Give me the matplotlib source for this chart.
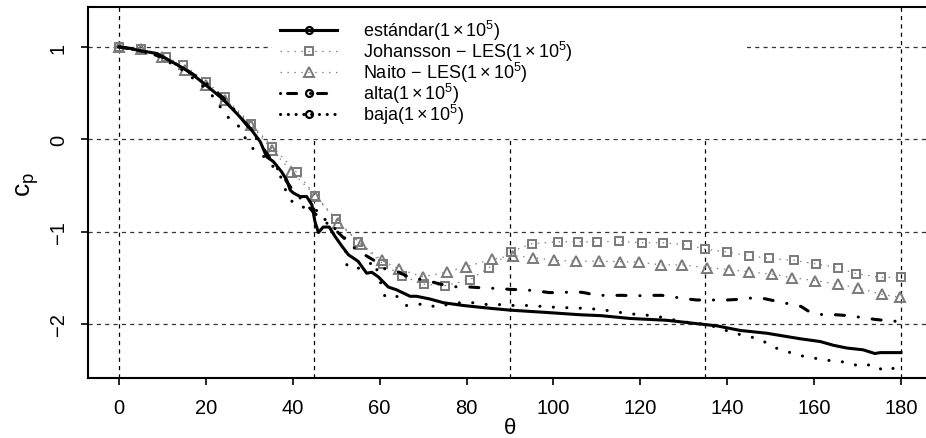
import matplotlib
matplotlib.use("Agg")
import matplotlib.pyplot as plt
from matplotlib.lines import Line2D
from matplotlib.patches import Rectangle

plt.rcParams['font.family'] = ['Liberation Sans', 'DejaVu Sans']
plt.rcParams['mathtext.fontset'] = 'custom'
plt.rcParams['mathtext.rm'] = 'Liberation Sans'
plt.rcParams['mathtext.it'] = 'Liberation Sans:italic'
plt.rcParams['mathtext.bf'] = 'Liberation Sans:bold'
plt.rcParams['lines.scale_dashes'] = False

# ---------------- data ----------------
std_theta = [0, 2, 4.8, 8.7, 11, 14.8, 17, 19.4, 22, 24, 27.1, 30.2, 32.5, 34, 35.5, 37.4, 38.6,
             39.4, 40.1, 41.7, 43.2, 44.4, 45.1, 45.9, 47, 48.4, 49.7, 51.2, 52.8, 54.7, 55.1,
             57, 58.2, 59.7, 62, 63.9, 67, 68.5, 71.6, 74.7, 79.3, 85.4, 90, 98.4, 106.1, 111,
             117.6, 126.1, 133.7, 137.6, 143, 149.1, 156.8, 161.4, 164.4, 167.5, 171.3, 174,
             175.2, 180]
std_cp = [1.0, 0.99, 0.96, 0.93, 0.87, 0.77, 0.70, 0.61, 0.51, 0.43, 0.28, 0.12, -0.025, -0.19,
          -0.24, -0.35, -0.44, -0.55, -0.58, -0.62, -0.62, -0.71, -0.89, -1.01, -0.95, -0.95,
          -1.05, -1.15, -1.25, -1.31, -1.325, -1.45, -1.44, -1.49, -1.60, -1.63, -1.70, -1.70,
          -1.73, -1.77, -1.80, -1.83, -1.85, -1.875, -1.90, -1.91, -1.94, -1.96, -2.00, -2.02,
          -2.07, -2.10, -2.16, -2.19, -2.23, -2.26, -2.28, -2.32, -2.31, -2.31]

joh_theta = [0, 5, 10.8, 14.7, 20, 24.4, 30.4, 35.3, 40.9, 45.2, 49.9, 55.1, 60.8, 65.1, 70.2,
             75, 80.8, 85.2, 90.2, 95, 101.1, 105.7, 110.1, 115.2, 120.3, 125.3, 130.7, 134.9,
             140, 145.1, 149.7, 155.4, 160.4, 165.4, 169.7, 175.3, 179.9]
joh_cp = [1.0, 0.98, 0.89, 0.81, 0.625, 0.455, 0.166, -0.08, -0.357, -0.61, -0.86, -1.11, -1.35,
          -1.48, -1.57, -1.585, -1.52, -1.39, -1.22, -1.13, -1.11, -1.11, -1.11, -1.105, -1.12,
          -1.12, -1.145, -1.19, -1.22, -1.26, -1.29, -1.31, -1.35, -1.39, -1.455, -1.495, -1.495]

nai_theta = [0, 5, 10, 15.2, 20, 24.4, 30.4, 35.3, 39.7, 45.2, 50.5, 55.8, 60.5, 64.5, 70, 75.6,
             79.9, 85.8, 90.6, 95.2, 100.1, 105.1, 110.6, 115.3, 119.8, 124.8, 129.5, 135.4,
             140.4, 145, 150.3, 155, 160.2, 165.4, 170.2, 175.6, 179.8]
nai_cp = [1.0, 0.98, 0.89, 0.75, 0.59, 0.43, 0.155, -0.116, -0.35, -0.61, -0.91, -1.135, -1.31,
          -1.405, -1.49, -1.435, -1.38, -1.30, -1.26, -1.28, -1.31, -1.32, -1.32, -1.325, -1.33,
          -1.36, -1.36, -1.39, -1.41, -1.435, -1.46, -1.50, -1.53, -1.57, -1.61, -1.68, -1.71]

alta_theta = [0, 5, 10, 15, 20, 25, 30, 35, 40, 45, 50, 54, 56, 59, 61, 64, 67, 70, 72.5, 75, 78,
              81, 84, 87, 90, 93, 96, 99, 102, 105, 107, 110, 113, 116, 119, 122, 125, 128, 131,
              133, 136, 140, 142, 145, 148, 151, 154, 157, 159, 162, 165, 168, 171, 174, 176, 180]
alta_cp = [1.0, 0.96, 0.89, 0.77, 0.61, 0.41, 0.12, -0.22, -0.55, -0.80, -0.99, -1.17, -1.235,
           -1.32, -1.40, -1.43, -1.50, -1.52, -1.55, -1.58, -1.60, -1.60, -1.61, -1.615, -1.625,
           -1.63, -1.64, -1.66, -1.66, -1.65, -1.66, -1.69, -1.69, -1.69, -1.695, -1.69, -1.69,
           -1.71, -1.73, -1.74, -1.74, -1.74, -1.735, -1.72, -1.72, -1.75, -1.78, -1.81, -1.87,
           -1.90, -1.90, -1.91, -1.93, -1.95, -1.96, -1.975]

baja_theta = [0, 5, 9, 14, 19, 21.7, 24.8, 27.3, 30.2, 32.8, 35, 37, 38.9, 40.5, 43.6, 46.3, 47,
              50, 52, 52.2, 52.5, 55.9, 58.8, 60.2, 61.2, 62.4, 64.5, 66.2, 70.7, 73, 75.5, 78.5,
              81.6, 84.8, 88, 91, 94.4, 97.5, 100.7, 104, 107, 110, 113.5, 116.7, 120, 123,
              126.3, 129.5, 132.6, 135.7, 138.5, 141.6, 144.6, 147.8, 150.5, 153.3, 156.4,
              159.2, 162, 165, 168, 170.6, 173.6, 176.1, 179, 180]
baja_cp = [1.0, 0.96, 0.90, 0.77, 0.59, 0.46, 0.25, 0.16, -0.08, -0.16, -0.27, -0.38, -0.62,
           -0.71, -0.75, -0.78, -0.85, -0.98, -1.07, -1.25, -1.38, -1.40, -1.32, -1.55, -1.70,
           -1.68, -1.71, -1.80, -1.78, -1.82, -1.79, -1.77, -1.77, -1.79, -1.79, -1.80, -1.80,
           -1.81, -1.82, -1.825, -1.83, -1.84, -1.86, -1.885, -1.90, -1.91, -1.94, -1.975,
           -1.99, -2.01, -2.05, -2.10, -2.13, -2.17, -2.25, -2.29, -2.34, -2.36, -2.39, -2.40,
           -2.42, -2.46, -2.435, -2.51, -2.47, -2.47]

x_ticks = [0, 20, 40, 60, 80, 100, 120, 140, 160, 180]
y_ticks = [-2, -1, 0, 1]
grid_x = [0, 45, 90, 135, 180]
grid_y = [-2, -1, 0, 1]

labels = ['estándar$(1\\times10^5)$',
          'Johansson$\\,-\\,$LES$(1\\times10^5)$',
          'Naito$\\,-\\,$LES$(1\\times10^5)$',
          'alta$(1\\times10^5)$',
          'baja$(1\\times10^5)$']

# ---------------- figure ----------------
W, H = 926, 439
fig = plt.figure(figsize=(W / 100, H / 100), dpi=100)
L, R, T, B = 88, 932, 8, 379
ax = fig.add_axes([L / W, 1 - B / H, (R - L) / W, (B - T) / H])
ax.set_xlim(-7.14, 187.15)
ax.set_ylim(-2.585, 1.433)

gray = '#7a7a7a'
gdash = (0, (3.0, 3.0))
for gx in grid_x:
    ax.axvline(gx, color='black', lw=0.9, ls=gdash, zorder=1)
for gy in grid_y:
    ax.axhline(gy, color='#333333', lw=0.9, ls=gdash, zorder=1)

# white legend background
ax.add_patch(Rectangle((0.218, 0.644), 0.563, 0.36, transform=ax.transAxes,
                       facecolor='white', edgecolor='none', zorder=1.5))

lw = 2.2
ax.plot(std_theta, std_cp, color='black', lw=lw, solid_joinstyle='round', zorder=3)
ax.plot(joh_theta, joh_cp, color=gray, lw=0.9, ls=(0, (1.0, 4.0)), marker='s', ms=5.2,
        mfc='none', mec=gray, mew=1.4, zorder=2.5)
ax.plot(nai_theta, nai_cp, color=gray, lw=0.9, ls=(0, (1.0, 4.0)), marker='^', ms=6.8,
        mfc='none', mec=gray, mew=1.4, zorder=2.5)
ax.plot(alta_theta, alta_cp, color='black', lw=lw, ls=(0, (6.5, 10.0, 0.1, 10.0)),
        dash_capstyle='round', zorder=3)
ax.plot(baja_theta, baja_cp, color='black', lw=lw, ls=(0, (0.1, 9.6)),
        dash_capstyle='round', zorder=3)

# legend
handles = [
    Line2D([], [], color='black', lw=lw, marker='o', ms=5, mfc='none', mew=1.6),
    Line2D([], [], color=gray, lw=0.9, ls=(0, (1.0, 4.0)), marker='s', ms=5.2, mfc='none', mew=1.4),
    Line2D([], [], color=gray, lw=0.9, ls=(0, (1.0, 4.0)), marker='^', ms=6.8, mfc='none', mew=1.4),
    Line2D([], [], color='black', lw=lw, ls=(0, (0.1, 5.0, 6.5, 10.0)), dash_capstyle='round',
           marker='o', ms=5, mfc='none', mew=1.6),
    Line2D([], [], color='black', lw=lw, ls=(0, (0.1, 5.5)), dash_capstyle='round',
           marker='o', ms=5, mfc='none', mew=1.6),
]
leg = ax.legend(handles, labels, loc='upper left', bbox_to_anchor=(0.2275, 0.970),
                frameon=False, fontsize=13, handlelength=3.16, handletextpad=1.44,
                labelspacing=-0.17, borderpad=0, borderaxespad=0)
leg.set_zorder(4)

# axes styling
for s in ax.spines.values():
    s.set_linewidth(1.5)
ax.set_xticks(x_ticks)
ax.set_yticks(y_ticks)
ax.set_xticklabels([str(v) for v in x_ticks])
ax.set_yticklabels([str(v).replace('-', '\u2212') for v in y_ticks])
ax.tick_params(axis='both', direction='out', length=5, width=1.2, labelsize=14.5, pad=9.5)
for lab in ax.get_yticklabels():
    lab.set_rotation(90)
    lab.set_va('center')

ax.set_xlabel('θ', fontsize=16, va='center')
ax.xaxis.set_label_coords(0.5, -0.134)
ax.set_ylabel('$\\mathrm{c}_\\mathrm{p}$', fontsize=19, va='center')
ax.yaxis.set_label_coords(-0.071, 0.523)

fig.savefig('out.png', dpi=100)
